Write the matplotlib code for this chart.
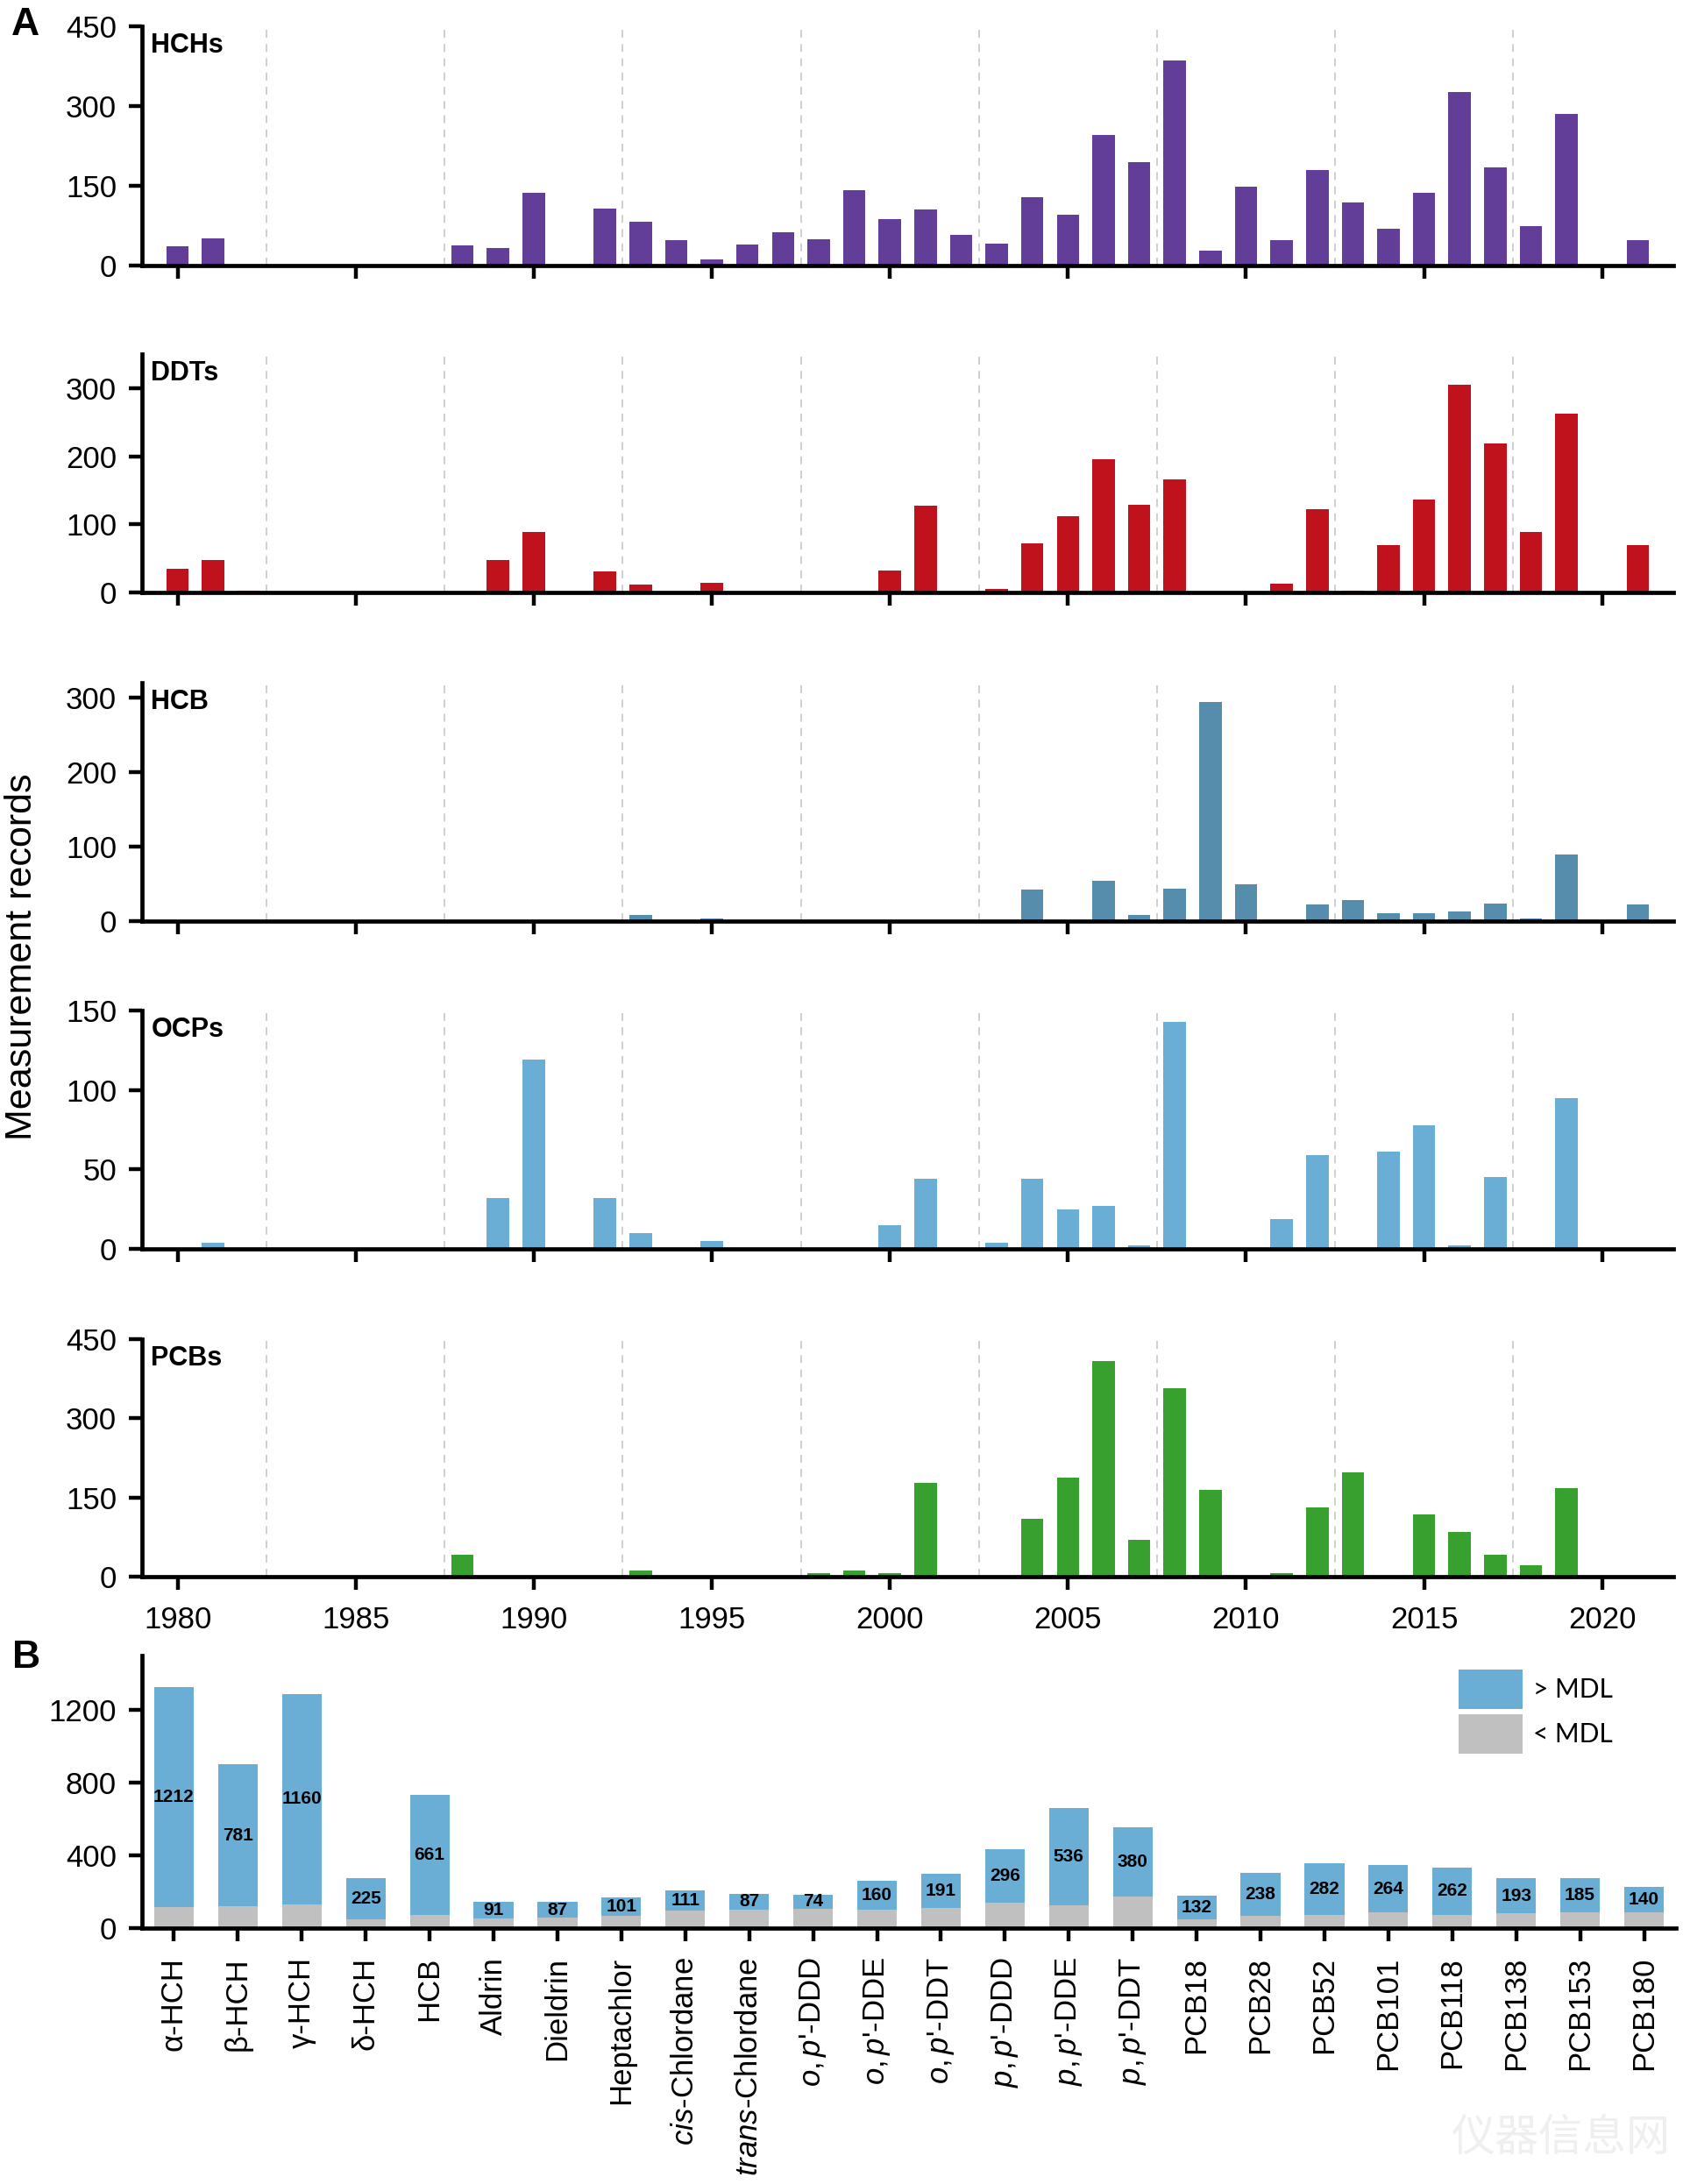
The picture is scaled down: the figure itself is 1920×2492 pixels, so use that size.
import numpy as np
import matplotlib
matplotlib.use("Agg")
import matplotlib.pyplot as plt

plt.rcParams['font.family'] = ['Liberation Sans', 'DejaVu Sans']
plt.rcParams['mathtext.fontset'] = 'custom'
plt.rcParams['mathtext.rm'] = 'Liberation Sans'
plt.rcParams['mathtext.it'] = 'Liberation Sans:italic'

# ---- panel A data: measurement records per year, 1980-2021 ----
years = np.arange(1980, 2022)

hchs = [36, 51, 0, 0, 0, 0, 0, 0, 38, 33,
        136, 0, 107, 82, 47, 11, 40, 63, 50, 142,
        88, 105, 57, 42, 129, 95, 245, 194, 385, 28,
        149, 48, 179, 118, 70, 136, 326, 185, 75, 285,
        0, 47]
ddts = [35, 48, 3, 0, 0, 0, 0, 0, 0, 47,
        89, 0, 31, 12, 0, 14, 0, 0, 0, 0,
        32, 128, 0, 5, 72, 112, 195, 129, 166, 0,
        0, 13, 122, 3, 69, 136, 305, 219, 89, 263,
        0, 69]
hcb = [0, 0, 0, 0, 0, 0, 0, 0, 0, 0,
       0, 0, 0, 8, 0, 4, 0, 0, 0, 0,
       0, 0, 0, 1, 42, 0, 54, 8, 44, 294,
       49, 0, 22, 28, 11, 11, 13, 23, 3, 89,
       0, 22]
ocps = [0, 4, 0, 0, 0, 0, 0, 0, 0, 32,
        119, 0, 32, 10, 0, 5, 0, 0, 0, 0,
        15, 44, 0, 4, 44, 25, 27, 2, 143, 0,
        0, 19, 59, 0, 61, 78, 2, 45, 0, 95,
        0, 0]
pcbs = [0, 0, 0, 0, 0, 0, 0, 0, 42, 0,
        0, 0, 0, 12, 0, 0, 0, 0, 6, 12,
        6, 177, 0, 0, 110, 188, 409, 69, 357, 165,
        0, 6, 132, 197, 0, 118, 85, 42, 21, 167,
        0, 0]

series_names = ['HCHs', 'DDTs', 'HCB', 'OCPs', 'PCBs']
series_vals = [hchs, ddts, hcb, ocps, pcbs]
series_colors = ['#633E98', '#C0121C', '#568DAC', '#6AAED6', '#38A02F']
series_ylim = [450, 350, 320, 150, 450]
series_yticks = [[0, 150, 300, 450], [0, 100, 200, 300], [0, 100, 200, 300],
                 [0, 50, 100, 150], [0, 150, 300, 450]]

# ---- panel B data: records above / below MDL per compound ----
compounds = ['α-HCH', 'β-HCH', 'γ-HCH', 'δ-HCH', 'HCB', 'Aldrin', 'Dieldrin',
             'Heptachlor', r'$\mathit{cis}$-Chlordane', r'$\mathit{trans}$-Chlordane',
             r"$\mathit{o,p}$'-DDD", r"$\mathit{o,p}$'-DDE", r"$\mathit{o,p}$'-DDT",
             r"$\mathit{p,p}$'-DDD", r"$\mathit{p,p}$'-DDE", r"$\mathit{p,p}$'-DDT",
             'PCB18', 'PCB28', 'PCB52', 'PCB101', 'PCB118', 'PCB138', 'PCB153', 'PCB180']
above_mdl = [1212, 781, 1160, 225, 661, 91, 87, 101, 111, 87, 74, 160, 191,
             296, 536, 380, 132, 238, 282, 264, 262, 193, 185, 140]
below_mdl = [115, 120, 130, 48, 70, 52, 57, 68, 97, 102, 108, 102, 110,
             140, 124, 175, 48, 68, 73, 85, 73, 80, 88, 88]

W, H = 1920, 2492
fig = plt.figure(figsize=(W / 100, H / 100), dpi=100)


def rect(top, bottom, left=162, right=1909):
    return [left / W, 1 - bottom / H, (right - left) / W, (bottom - top) / H]


def style_axis(ax):
    for s in ['top', 'right']:
        ax.spines[s].set_visible(False)
    for s in ['left', 'bottom']:
        ax.spines[s].set_linewidth(3.4)
    ax.tick_params(axis='both', length=10.8, width=3.2, labelsize=25, pad=10)


tops = [30, 404, 779, 1153, 1528]
bottoms = [303, 676, 1051, 1425, 1799]

for i, (name, vals, col) in enumerate(zip(series_names, series_vals, series_colors)):
    ax = fig.add_axes(rect(tops[i], bottoms[i]))
    ax.bar(years, vals, width=0.63, color=col, zorder=2)
    for g in np.arange(1982.5, 2020, 5):
        ax.axvline(g, color='#cccccc', lw=1.3, ls=(0, (5, 4)), zorder=0)
    ax.set_xlim(1979, 2022)
    ax.set_ylim(0, series_ylim[i])
    ax.set_yticks(series_yticks[i])
    ax.set_xticks(range(1980, 2021, 5))
    style_axis(ax)
    if i < 4:
        ax.set_xticklabels([])
    else:
        ax.tick_params(axis='x', pad=13)
    ax.text(0.006, 0.975, name, transform=ax.transAxes, ha='left', va='top',
            fontsize=22, fontweight='bold')

fig.text(25 / W, 1 - 1092 / H, 'Measurement records', rotation=90,
         ha='center', va='center', fontsize=31)

# ---- panel B ----
axb = fig.add_axes(rect(1889, 2200, right=1912))
x = np.arange(len(compounds))
b_low = axb.bar(x, below_mdl, width=0.62, color='#C0C0C0', zorder=2)
b_high = axb.bar(x, above_mdl, bottom=below_mdl, width=0.62, color='#6AAED6', zorder=2)
axb.bar_label(b_high, labels=[str(v) for v in above_mdl], label_type='center',
              fontsize=15, fontweight='bold')
axb.set_xlim(-0.5, len(compounds) - 0.5)
axb.set_ylim(0, 1500)
axb.set_yticks([0, 400, 800, 1200])
axb.set_xticks(x)
axb.set_xticklabels(compounds, rotation=90, va='top', ha='center')
style_axis(axb)
axb.tick_params(axis='x', pad=13)
axb.legend([b_high, b_low], ['> MDL', '< MDL'], loc='upper left',
           bbox_to_anchor=(1664 / W, 1 - 1905 / H), bbox_transform=fig.transFigure,
           frameon=False, borderpad=0, borderaxespad=0, handlelength=2.45,
           handleheight=1.95, labelspacing=0.2, handletextpad=0.4,
           prop={'family': ['Lato', 'DejaVu Sans'], 'size': 21.5})

fig.text(13 / W, 1 - 8 / H, 'A', ha='left', va='top', fontsize=32, fontweight='bold')
fig.text(14 / W, 1 - 1871 / H, 'B', ha='left', va='top', fontsize=32, fontweight='bold')

# faint site watermark in the lower right corner
fig.text(1905 / W, 1 - 2440 / H, '仪器信息网', ha='right', va='center', fontsize=36,
         color='#efefef', family=['Noto Sans CJK SC', 'DejaVu Sans'])

fig.savefig('out.png', dpi=100)
